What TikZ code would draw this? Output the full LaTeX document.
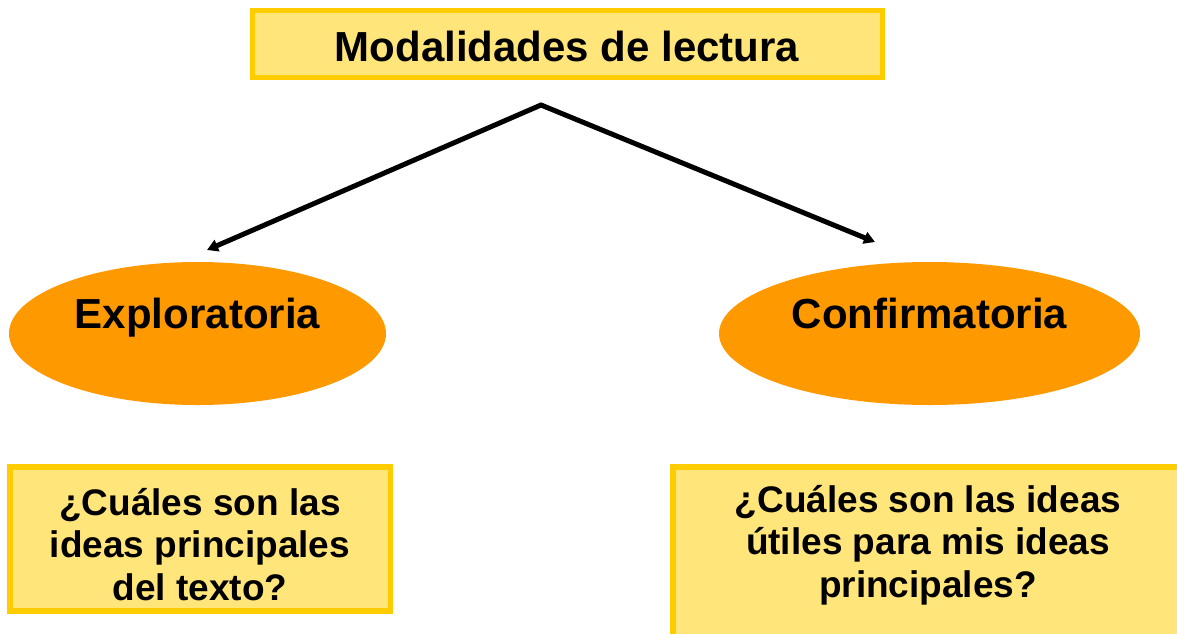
\documentclass[tikz,border=0pt]{standalone}
\usepackage{fontspec}
\setmainfont{Liberation Sans}
\usetikzlibrary{arrows.meta,shapes.geometric}
\definecolor{boxfill}{HTML}{FFE57A}
\definecolor{boxline}{HTML}{FFCC00}
\definecolor{ovalfill}{HTML}{FF9900}
\tikzset{
  ybox/.style={draw=boxline, fill=boxfill, line width=5.5pt},
  oval/.style={ellipse, fill=ovalfill, draw=none, inner sep=0pt},
  head/.style={font=\fontsize{42}{50}\selectfont\bfseries, inner sep=0pt, anchor=base},
  question/.style={font=\fontsize{37}{42.5}\selectfont\bfseries, inner sep=0pt, anchor=base},
  arr/.style={line width=5pt, line join=miter, {Triangle[length=11pt,width=12pt]}-{Triangle[length=11pt,width=12pt]}}
}
\begin{document}
\begin{tikzpicture}[x=1pt,y=-1pt]
\useasboundingbox (0,0) rectangle (1177,633);
% top box
\draw[ybox] (252.5,10.5) rectangle (882.5,77.5);
\node[head] (title) at (567,61) {Modalidades de lectura};
% arrows
\coordinate (apex) at (541,105);
\coordinate (lend) at (207,250);
\coordinate (rend) at (875,242);
\draw[arr] (lend) -- (apex) -- (rend);
% ellipses
\node[oval, minimum width=377pt, minimum height=143pt] (expl) at (197.5,333.5) {};
\node[head] (explt) at (197.5,328) {Exploratoria};
\node[oval, minimum width=421pt, minimum height=143pt] (conf) at (929.5,333.5) {};
\node[head] (conft) at (929.5,328) {Confirmatoria};
% bottom boxes
\draw[ybox] (9.75,466.75) rectangle (390.25,610.75);
\node[question] (q1) at (200,515) {\begin{tabular}[t]{@{}c@{}}¿Cuáles son las\\ideas principales\\del texto?\end{tabular}};
\draw[ybox] (672.75,466.75) rectangle (1190,650);
\node[question] (q2) at (928,512) {\begin{tabular}[t]{@{}c@{}}¿Cuáles son las ideas\\útiles para mis ideas\\principales?\end{tabular}};
\end{tikzpicture}
\end{document}
